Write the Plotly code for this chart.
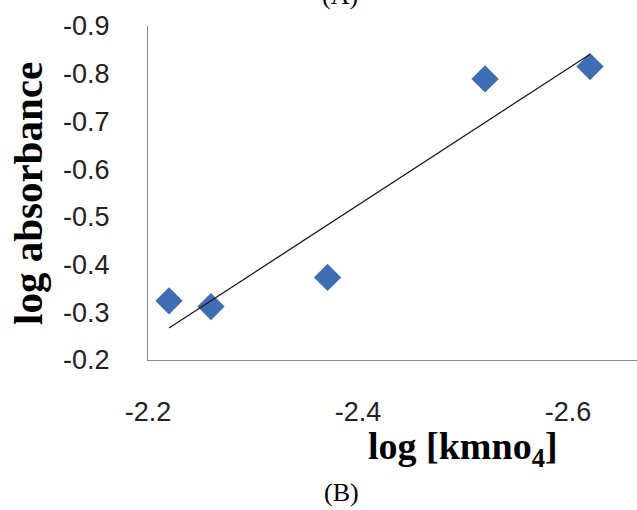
import numpy as np
import plotly.graph_objects as go

# log [KMnO4] vs log absorbance
log_kmno4 = [-2.22, -2.26, -2.371, -2.521, -2.621]
log_absorbance = [-0.324, -0.312, -0.373, -0.789, -0.815]

x_ticks = [-2.2, -2.4, -2.6]
y_ticks = [-0.9, -0.8, -0.7, -0.6, -0.5, -0.4, -0.3, -0.2]

# least-squares trend line across the data span
slope, intercept = np.polyfit(log_kmno4, log_absorbance, 1)
trend_x = [min(log_kmno4), max(log_kmno4)]
trend_y = [slope * v + intercept for v in trend_x]

W, H = 637, 510
L, R, T, B = 148, 0, 26, 150
pw, ph = W - L - R, H - T - B


def px(xp):
    return (xp - L) / pw


def py(yp):
    return (H - B - yp) / ph


fig = go.Figure()
fig.add_trace(go.Scatter(
    x=log_kmno4, y=log_absorbance, mode="markers",
    marker=dict(symbol="diamond", size=21, color="#3F6DB3",
                line=dict(width=0)),
    showlegend=False,
))
fig.add_trace(go.Scatter(
    x=trend_x, y=trend_y, mode="lines",
    line=dict(color="#1a1a1a", width=1.3),
    showlegend=False,
))

tick_font = dict(family="Liberation Sans", size=27, color="#222222")
serif_bold_y = dict(family="Liberation Serif", size=41, color="#000000")
serif_bold_x = dict(family="Liberation Serif", size=38, color="#000000")
serif = dict(family="Liberation Serif", size=26, color="#000000")

fig.update_layout(
    width=W, height=H,
    margin=dict(l=L, r=R, t=T, b=B),
    paper_bgcolor="white", plot_bgcolor="white",
    xaxis=dict(
        range=[-2.2, -2.2 - 0.2 * pw / 210], tickvals=x_ticks,
        ticktext=[f"{v:.1f}" for v in x_ticks],
        showgrid=False, zeroline=False,
        showline=True, linecolor="#8c8c8c", linewidth=1.3,
        ticks="", tickfont=tick_font, ticklabelstandoff=27,
    ),
    yaxis=dict(
        range=[-0.2, -0.9], tickvals=y_ticks,
        ticktext=[f"{v:.1f}" for v in y_ticks],
        showgrid=False, zeroline=False,
        showline=True, linecolor="#8c8c8c", linewidth=1.3,
        ticks="", tickfont=tick_font, ticklabelstandoff=32,
    ),
    annotations=[
        dict(text="<b>log absorbance</b>", textangle=-90,
             x=px(28), y=py(194), xref="paper", yref="paper",
             xanchor="center", yanchor="middle", showarrow=False,
             font=serif_bold_y),
        dict(text="<b>log [kmno<sub>4</sub>]</b>",
             x=px(463), y=py(449), xref="paper", yref="paper",
             xanchor="center", yanchor="middle", showarrow=False,
             font=serif_bold_x),
        dict(text="(A)", x=px(340), y=py(-5), xref="paper", yref="paper",
             xanchor="center", yanchor="middle", showarrow=False,
             font=serif),
        dict(text="(B)", x=px(341), y=py(492), xref="paper", yref="paper",
             xanchor="center", yanchor="middle", showarrow=False,
             font=serif),
    ],
)

fig.write_html("out.html")
